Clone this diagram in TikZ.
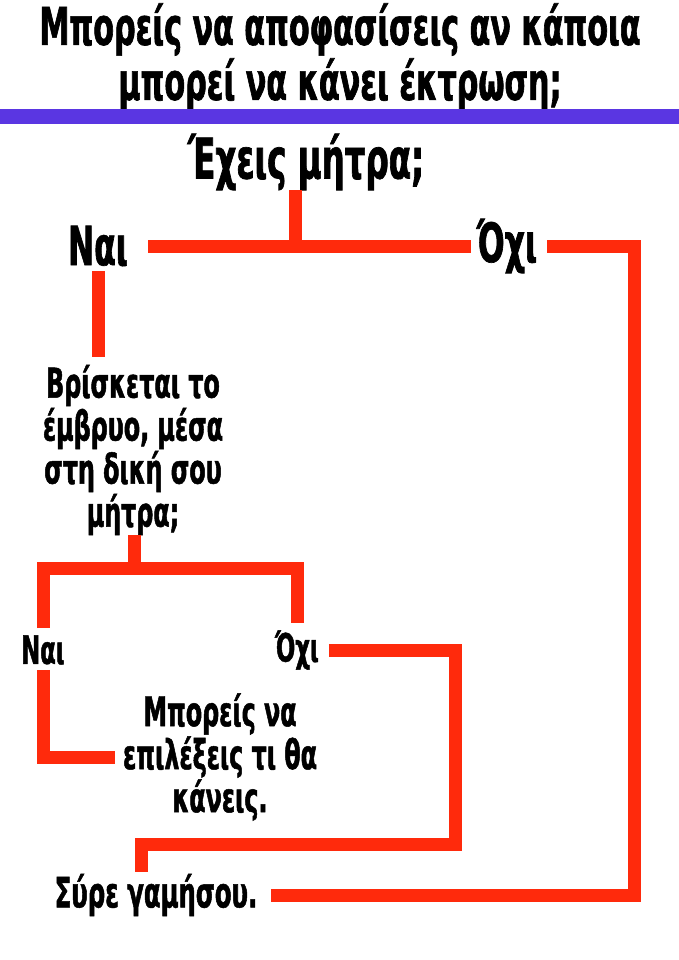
\documentclass[tikz,border=0pt]{standalone}
\usepackage{fontspec}
\setmainfont{DejaVu Sans}[FakeStretch=0.58,FakeBold=1.2]
\definecolor{wirered}{HTML}{FF2A0C}
\definecolor{barviolet}{HTML}{5A36E2}

\begin{document}
\begin{tikzpicture}[x=1pt,y=-1pt,
    wire/.style={draw=wirered,line width=13pt,line join=miter},
    txt/.style={inner sep=0pt,align=center}]
  \useasboundingbox (0,0) rectangle (679,960);
  \fill[white] (0,0) rectangle (679,960);
  % heading
  \node[txt,font=\bfseries\fontsize{52}{55}\selectfont] (title) at (340,57)
    {Μπορείς να αποφασίσεις αν κάποια\\μπορεί να κάνει έκτρωση;};
  \fill[barviolet] (0,109) rectangle (679,124);
  % questions and answers
  \node[txt,font=\bfseries\fontsize{56}{60}\selectfont] (q1) at (306,162) {Έχεις μήτρα;};
  \node[txt,font=\bfseries\fontsize{54}{58}\selectfont] (yes1) at (98,246) {Ναι};
  \node[txt,font=\bfseries\fontsize{54}{58}\selectfont] (no1) at (507,246) {Όχι};
  \node[txt,font=\bfseries\fontsize{41}{43}\selectfont] (q2) at (133,450)
    {Βρίσκεται το\\έμβρυο, μέσα\\στη δική σου\\μήτρα;};
  \node[txt,font=\bfseries\fontsize{39}{40}\selectfont] (yes2) at (43,650) {Ναι};
  \node[txt,font=\bfseries\fontsize{39}{40}\selectfont] (no2) at (297,650) {Όχι};
  \node[txt,font=\bfseries\fontsize{41}{43}\selectfont] (free) at (220,757)
    {Μπορείς να\\επιλέξεις τι θα\\κάνεις.};
  \node[txt,font=\bfseries\fontsize{42}{44}\selectfont] (fin) at (156,895) {Σύρε γαμήσου.};
  % bends
  \coordinate (j1) at (295,247);
  \coordinate (j3) at (134,568);
  \coordinate (j4) at (141,844);
  \coordinate (r1) at (634,0);
  \coordinate (r2) at (455,0);
  % wires
  \draw[wire] (q1.south -| j1) -- (j1);
  \draw[wire,shorten <=20pt,shorten >=6pt] (yes1) -- (no1);
  \draw[wire,shorten <=10pt,shorten >=14pt] (no1) -- (no1 -| r1) |- (fin);
  \draw[wire,shorten <=5pt,shorten >=8pt] (yes1) -- (yes1 |- q2.north);
  \draw[wire] (q2.south -| j3) -- (j3);
  \draw[wire,shorten <=7pt,shorten >=7pt] (yes2) -- (yes2 |- j3) -| (no2);
  \draw[wire,shorten <=5pt,shorten >=8pt] (yes2) |- (free);
  \draw[wire,shorten <=10pt,shorten >=2pt] (no2) -- (no2 -| r2) |- (j4) -- (fin.north -| j4);
\end{tikzpicture}
\end{document}
